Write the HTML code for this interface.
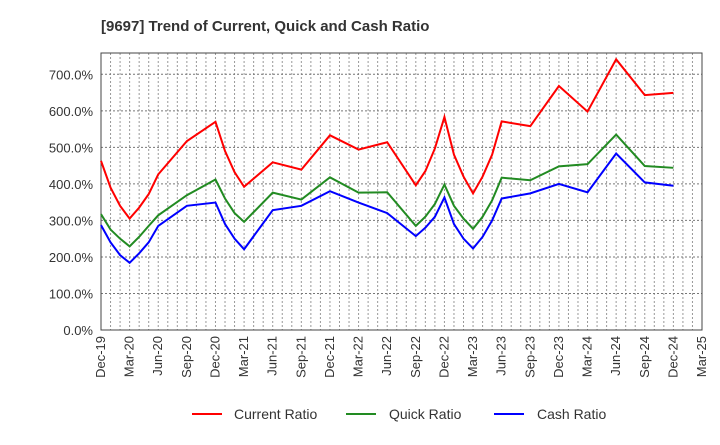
<!DOCTYPE html>
<html><head><meta charset="utf-8"><style>
body{margin:0;background:#fff;font-family:"Liberation Sans",sans-serif}
</style></head><body>
<svg id="chart" width="720" height="440" xmlns="http://www.w3.org/2000/svg">
<text x="101" y="31" font-size="15" font-weight="bold" fill="#333">[9697]  Trend of Current, Quick and Cash Ratio</text>
<g id="grid"></g><g id="axes"></g><g id="lines"></g>
<g id="legend">
<line x1="192" y1="414" x2="222" y2="414" stroke="#f00" stroke-width="2"/>
<text x="234" y="419" font-size="14" fill="#333">Current Ratio</text>
<line x1="346" y1="414" x2="376" y2="414" stroke="#228b22" stroke-width="2"/>
<text x="389" y="419" font-size="14" fill="#333">Quick Ratio</text>
<line x1="494" y1="414" x2="524" y2="414" stroke="#00f" stroke-width="2"/>
<text x="537" y="419" font-size="14" fill="#333">Cash Ratio</text>
</g>
</svg>
<script>
const months=[0,1,2,3,4,5,6,9,12,13,14,15,18,21,24,27,30,33,34,35,36,37,38,39,40,41,42,45,48,51,54,57,60];
const currentRatio=[463,390,340,305,335,372,426,517,570,490,432,392,459,439,533,494,514,396,435,497,583,480,420,374,420,480,571,558,668,598,741,643,649];
const quickRatio=[317,275,250,229,255,285,314,369,412,360,320,296,376,357,418,376,377,285,310,345,398,340,305,277,310,355,417,410,448,454,535,449,444];
const cashRatio=[287,240,205,184,210,240,285,340,349,290,250,221,328,340,380,349,320,257,280,310,363,290,250,223,255,300,360,374,400,377,483,404,395];
const xLabels=["Dec-19","Mar-20","Jun-20","Sep-20","Dec-20","Mar-21","Jun-21","Sep-21","Dec-21","Mar-22","Jun-22","Sep-22","Dec-22","Mar-23","Jun-23","Sep-23","Dec-23","Mar-24","Jun-24","Sep-24","Dec-24","Mar-25"];
const yTicks=[0,100,200,300,400,500,600,700];
const L=101,R=702,T=53,B=330,NM=63;
const X=m=>L+(R-L)*m/NM, Y=v=>B-(B-74.3)*v/700;
const NS="http://www.w3.org/2000/svg";
function mk(t,a,p){const e=document.createElementNS(NS,t);for(const k in a)e.setAttribute(k,a[k]);p.appendChild(e);return e;}
const grid=document.getElementById('grid'),axes=document.getElementById('axes'),lines=document.getElementById('lines');
for(let m=1;m<NM;m++){const g=mk('line',{x1:X(m),x2:X(m),y1:T,y2:B,stroke:'#999','stroke-width':1,'stroke-dasharray':'2,2'},grid);

}
yTicks.forEach(v=>{if(v>0){const g=mk('line',{x1:L,x2:R,y1:Y(v),y2:Y(v),stroke:'#777','stroke-width':1,'stroke-dasharray':'2,2'},grid);

}
const t=mk('text',{x:L-8,y:Y(v)+5,'text-anchor':'end','font-size':13,fill:'#333'},axes);t.textContent=v.toFixed(1)+'%';

});
const fr=mk('rect',{x:L,y:T,width:R-L,height:B-T,fill:'none',stroke:'#444','stroke-width':1},axes);


xLabels.forEach((s,i)=>{const x=X(i*3);const t=mk('text',{transform:`translate(${x+4},${B+6}) rotate(-90)`,'text-anchor':'end','font-size':13,fill:'#333'},axes);t.textContent=s;

});
[[currentRatio,'#f00','current-ratio-line'],[quickRatio,'#228b22','quick-ratio-line'],[cashRatio,'#00f','cash-ratio-line']].forEach(([d,c,n])=>{
const p=mk('polyline',{points:d.map((v,i)=>X(months[i])+','+Y(v)).join(' '),fill:'none',stroke:c,'stroke-width':2},lines);

});
</script>
</body></html>
